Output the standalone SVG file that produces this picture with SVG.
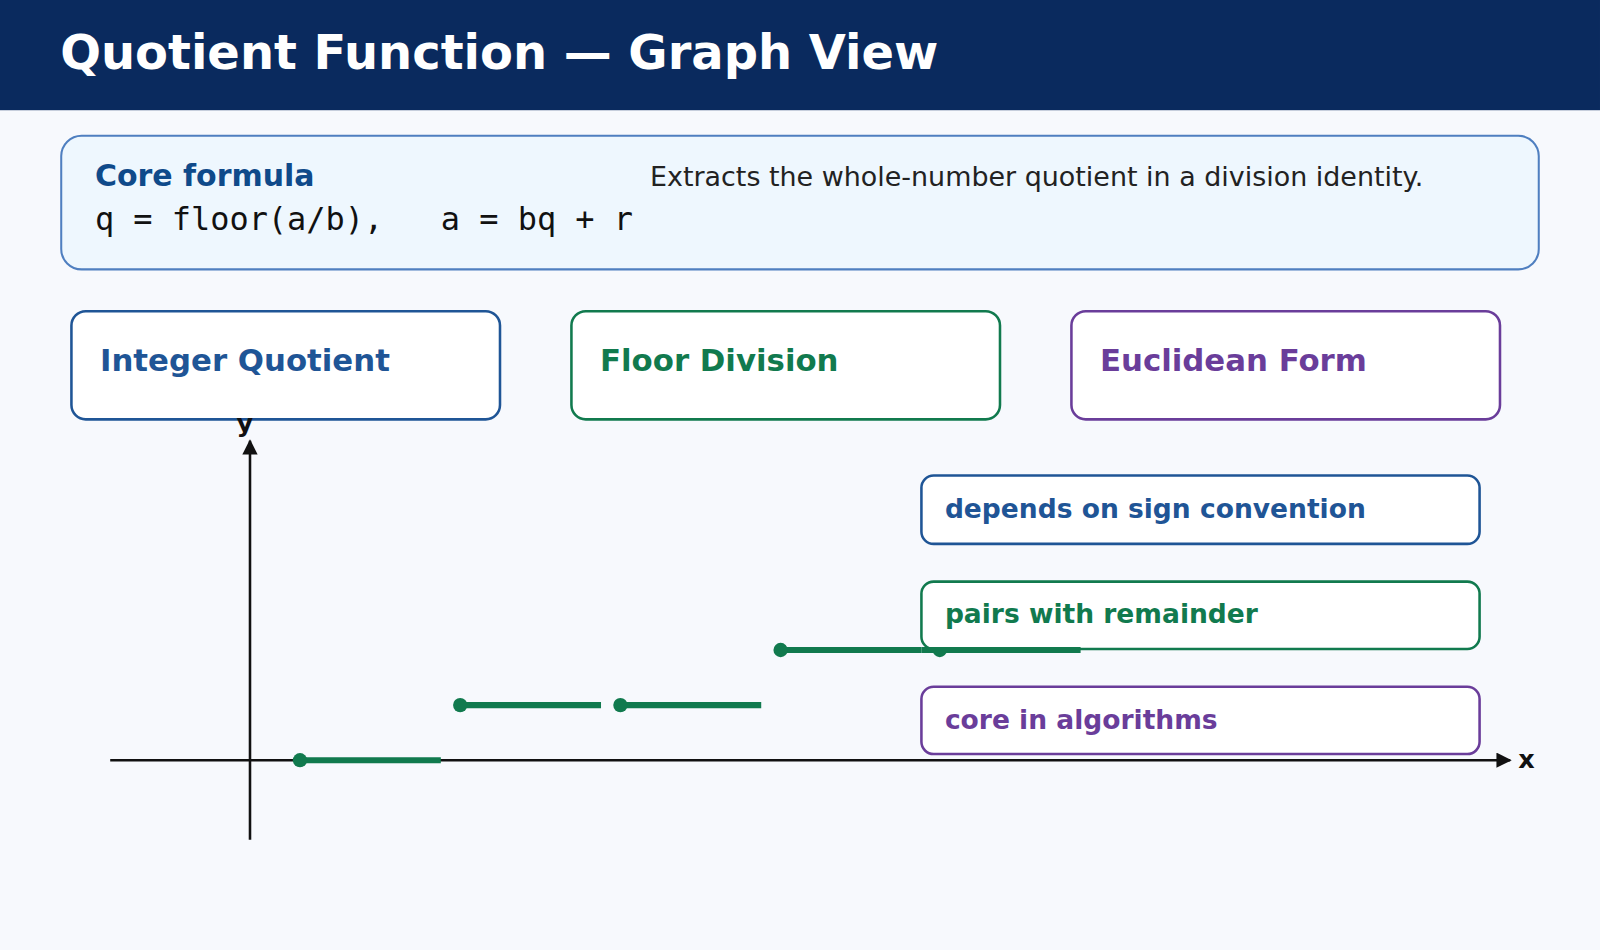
<svg xmlns="http://www.w3.org/2000/svg" width="1600" height="950" viewBox="0 0 1600 950">
<defs>
<style>
text{font-family:"DejaVu Sans","Liberation Sans",sans-serif}
.card{fill:#fff;stroke-width:2.5}
.lbl{font-weight:bold;font-size:30.2px}
.note{font-weight:bold;font-size:26px}
.step{stroke:#117a4e;stroke-width:6}
.dot{fill:#117a4e}
</style>
<marker id="ah" viewBox="0 0 10 10" refX="9" refY="5" markerWidth="15" markerHeight="15" markerUnits="userSpaceOnUse" orient="auto"><path d="M0,0L10,5L0,10z" fill="#111"/></marker>
</defs>
<g transform="scale(1.0204)">
<rect x="0" y="0" width="1568" height="931" fill="#f7f9fd"/>
<g id="header"><rect x="0" y="0" width="1568" height="108" fill="#0a2a5e"/>
<text x="59" y="68" font-size="47" font-weight="bold" fill="#fff">Quotient Function — Graph View</text></g>
<g id="formula"><rect x="60" y="133" width="1448" height="131" rx="20" fill="#eef7fe" stroke="#4f7fc0" stroke-width="2"/>
<text x="93" y="182" font-size="29.4" font-weight="bold" fill="#0f4a8a">Core formula</text>
<text x="93" y="225" font-size="31.3" fill="#111" style="font-family:'DejaVu Sans Mono',monospace" xml:space="preserve">q = floor(a/b),   a = bq + r</text>
<text x="637" y="182" font-size="26.4" fill="#222">Extracts the whole-number quotient in a division identity.</text></g>
<g id="card1"><rect class="card" x="70" y="305" width="420" height="106" rx="14" stroke="#1f5596"/><text class="lbl" x="98" y="364" fill="#1f5596">Integer Quotient</text></g>
<g id="card2"><rect class="card" x="560" y="305" width="420" height="106" rx="14" stroke="#117a4e"/><text class="lbl" x="588" y="364" fill="#117a4e">Floor Division</text></g>
<g id="card3"><rect class="card" x="1050" y="305" width="420" height="106" rx="14" stroke="#6a3d9a"/><text class="lbl" x="1078" y="364" fill="#6a3d9a">Euclidean Form</text></g>
<g id="axes" stroke="#111" stroke-width="2.5">
<line x1="245" y1="823" x2="245" y2="432" marker-end="url(#ah)"/>
<line x1="108" y1="745" x2="1480" y2="745" marker-end="url(#ah)"/></g>
<text x="240" y="423" font-size="25" font-weight="bold" text-anchor="middle" fill="#111">y</text>
<text x="1496" y="753" font-size="25" font-weight="bold" text-anchor="middle" fill="#111">x</text>
<g id="steps">
<line class="step" x1="294" y1="745" x2="432" y2="745"/><circle class="dot" cx="294" cy="745" r="7"/>
<line class="step" x1="451" y1="691" x2="589" y2="691"/><circle class="dot" cx="451" cy="691" r="7"/>
<line class="step" x1="608" y1="691" x2="746" y2="691"/><circle class="dot" cx="608" cy="691" r="7"/>
<line class="step" x1="765" y1="637" x2="903" y2="637"/><circle class="dot" cx="765" cy="637" r="7"/>
<circle class="dot" cx="921" cy="637" r="7"/>
</g>
<g id="note1"><rect class="card" x="903" y="466" width="547" height="67" rx="12" stroke="#1f5596"/><text class="note" x="926" y="508" fill="#1f5596">depends on sign convention</text></g>
<g id="note2"><rect class="card" x="903" y="570" width="547" height="66" rx="12" stroke="#117a4e"/><text class="note" x="926" y="611" fill="#117a4e">pairs with remainder</text></g>
<line class="step" x1="903" y1="637" x2="1059" y2="637"/>
<g id="note3"><rect class="card" x="903" y="673" width="547" height="66" rx="12" stroke="#6a3d9a"/><text class="note" x="926" y="714" fill="#6a3d9a">core in algorithms</text></g>
</g>
</svg>
